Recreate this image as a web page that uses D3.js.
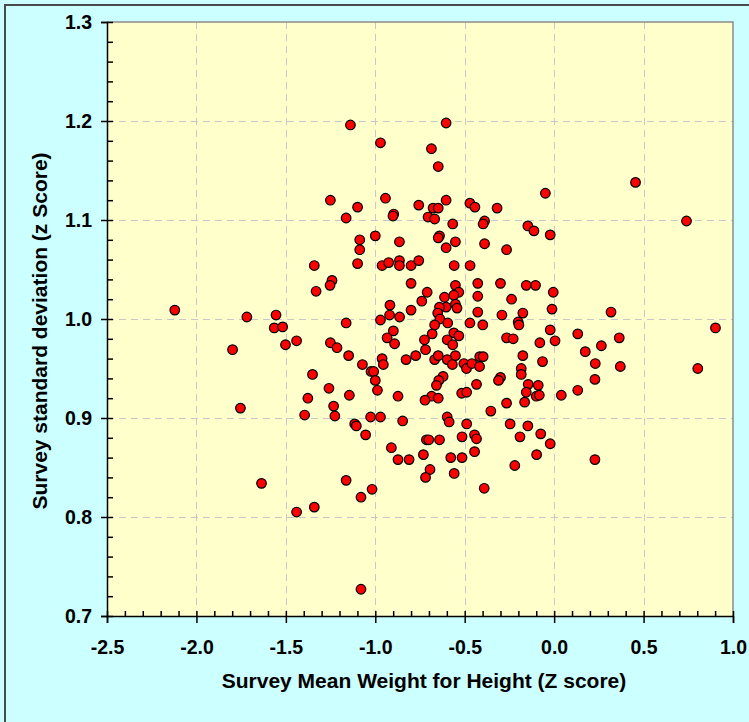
<!DOCTYPE html>
<html>
<head>
<meta charset="utf-8">
<script src="https://cdn.jsdelivr.net/npm/d3@7"></script>
<style>
  html, body { margin: 0; padding: 0; background: #ccffff; }
  svg { display: block; }
  text { font-family: "Liberation Sans", Arial, sans-serif; font-weight: bold; fill: #000; }
</style>
</head>
<body>
<script>
// ---- Data ----
const meanWHZ = [
  -1.139,-1.251,-1.163,-1.341,-1.242,-1.253,-1.331,-2.121,-1.718,-1.555,
  -1.565,-1.518,-1.440,-1.502,-1.798,-1.163,-1.251,-1.214,
  -0.604,-0.971,-0.686,-0.648,-1.099,-0.943,-0.757,-0.677,-0.648,-0.604,
  -0.897,-0.901,-0.705,-0.668,-0.567,-0.471,-0.443,-0.319,-0.389,-0.397,
  -0.147,-0.113,-1.087,-1.087,-1.000,-0.865,-0.641,-0.648,-0.552,-0.604,
  -0.389,-0.266,-1.099,-0.962,-0.925,-0.865,-0.865,-0.800,-0.757,-0.559,
  -0.470,-0.800,-0.710,-0.740,-0.918,-0.920,-0.864,-0.971,-0.800,-0.899,
  -0.934,-0.892,-0.552,-0.533,-0.561,-0.613,-0.552,-0.543,-0.604,-0.641,
  -0.651,-0.639,-0.595,-0.668,-0.682,-0.725,-0.719,-0.561,-0.533,-0.598,
  -0.567,-0.427,-0.300,-0.156,-0.104,-0.427,-0.238,-0.427,-0.292,-0.175,
  -0.201,-0.197,-0.471,-0.399,-0.266,-0.229,-0.080,
  -0.049,0.455,0.740,-0.022,-0.005,-0.012,0.318,0.902,-0.022,0.005,
  0.132,0.364,0.264,0.174,
  -1.149,-1.351,-1.259,-1.377,-1.233,-1.145,-1.754,-1.395,-1.226,-1.636,
  -1.163,-1.341,-1.440,
  -1.072,-1.024,-1.009,-0.962,-0.955,-1.000,-0.988,-0.873,-0.828,-0.774,
  -0.668,-0.648,-0.598,-0.552,-0.569,-0.505,-0.490,-0.460,-0.416,-0.397,
  -0.417,-0.175,-0.065,-0.184,-0.184,-0.621,-0.645,-0.658,-0.300,-0.311,
  -0.434,-0.145,-0.089,-0.156,-0.100,-0.083,-0.165,-0.517,-0.489,-0.685,
  -0.722,-0.648,-0.266,-0.354,-1.115,-1.106,-1.026,-0.971,-0.847,-0.598,
  -0.587,-0.489,-0.246,-0.147,-0.075,-0.191,-1.054,-0.910,-0.873,-0.811,
  -0.714,-0.701,-0.641,-0.515,-0.445,-0.434,-0.445,-0.731,-0.578,-0.515,
  -0.694,-0.719,-0.559,-0.220,-0.391,-0.098,-1.018,-1.080,-1.080,
  0.230,0.370,0.803,0.228,0.132,0.040,-0.022,0.228
];
const sdWHZ = [
  1.196,1.120,1.102,1.054,1.039,1.034,1.028,1.009,1.002,1.004,
  0.991,0.992,0.978,0.974,0.969,0.996,0.976,0.971,
  1.198,1.178,1.172,1.154,1.113,1.122,1.115,1.112,1.112,1.120,
  1.106,1.104,1.103,1.101,1.096,1.117,1.113,1.112,1.099,1.096,
  1.094,1.089,1.080,1.070,1.084,1.078,1.084,1.082,1.078,1.072,
  1.076,1.070,1.056,1.054,1.057,1.059,1.054,1.054,1.059,1.054,
  1.054,1.036,1.027,1.018,1.014,1.004,1.002,0.999,1.009,0.988,
  0.981,0.975,1.034,1.027,1.024,1.022,1.015,1.011,1.012,1.012,
  1.006,1.000,0.996,0.994,0.985,0.979,0.969,0.986,0.983,0.979,
  0.974,1.036,1.036,1.034,1.034,1.023,1.020,1.007,1.004,1.006,
  0.997,0.994,0.996,0.994,0.981,0.980,0.976,
  1.127,1.138,1.099,1.085,1.027,1.010,1.007,0.991,0.989,0.978,
  0.985,0.981,0.973,0.967,
  0.963,0.944,0.930,0.920,0.912,0.923,0.910,0.903,0.902,0.834,
  0.837,0.810,0.805,
  0.954,0.947,0.947,0.960,0.954,0.938,0.928,0.922,0.959,0.963,
  0.959,0.963,0.959,0.963,0.954,0.955,0.950,0.955,0.962,0.962,
  0.952,0.963,0.957,0.950,0.944,0.942,0.938,0.933,0.941,0.938,
  0.934,0.934,0.933,0.926,0.922,0.923,0.916,0.925,0.926,0.922,
  0.918,0.920,0.915,0.907,0.894,0.892,0.901,0.901,0.897,0.901,
  0.896,0.894,0.894,0.892,0.884,0.881,0.883,0.870,0.858,0.858,
  0.878,0.878,0.878,0.881,0.883,0.879,0.866,0.863,0.860,0.860,
  0.848,0.840,0.844,0.852,0.829,0.863,0.828,0.820,0.727,
  0.955,0.952,0.950,0.939,0.928,0.923,0.874,0.858
];
const xTickValues = [-2.5, -2.0, -1.5, -1.0, -0.5, 0.0, 0.5, 1.0];
const yTickValues = [0.7, 0.8, 0.9, 1.0, 1.1, 1.2, 1.3];
const xTitle = "Survey Mean Weight for Height (Z score)";
const yTitle = "Survey standard deviation (z Score)";

// ---- Layout ----
const W = 749, H = 722;
const plot = { left: 107, right: 733, top: 22, bottom: 616 };

const svg = d3.select("body").append("svg").attr("width", W).attr("height", H);

// outer background + frame
svg.append("rect").attr("x", 0).attr("y", 0).attr("width", W).attr("height", H).attr("fill", "#ccffff");
svg.append("rect").attr("x", 5).attr("y", 5).attr("width", W + 20).attr("height", H + 20)
  .attr("fill", "none").attr("stroke", "#4a4a4a").attr("stroke-width", 2);

const x = d3.scaleLinear().domain([-2.5, 1.0]).range([plot.left, plot.right]);
const y = d3.scaleLinear().domain([0.7, 1.3]).range([plot.bottom, plot.top]);

// plot area
svg.append("rect").attr("x", plot.left).attr("y", plot.top)
  .attr("width", plot.right - plot.left).attr("height", plot.bottom - plot.top)
  .attr("fill", "#ffffcc");

// gridlines
const grid = svg.append("g").attr("stroke", "#c8c8c8").attr("stroke-width", 1).attr("stroke-dasharray", "7,5");
grid.selectAll(".vg").data(xTickValues.slice(1, -1)).join("line")
  .attr("x1", d => Math.round(x(d)) + 0.5).attr("x2", d => Math.round(x(d)) + 0.5)
  .attr("y1", plot.top).attr("y2", plot.bottom);
grid.selectAll(".hg").data(yTickValues.slice(1, -1)).join("line")
  .attr("y1", d => Math.round(y(d)) + 0.5).attr("y2", d => Math.round(y(d)) + 0.5)
  .attr("x1", plot.left).attr("x2", plot.right);

// plot border top/right
svg.append("path")
  .attr("d", `M${plot.left},${plot.top}H${plot.right}V${plot.bottom}`)
  .attr("fill", "none").attr("stroke", "#8c8c8c").attr("stroke-width", 1.5);

// axes: outward major ticks with labels (hyphen minus as in the reference)
const loc = d3.formatLocale({ decimal: ".", thousands: ",", grouping: [3], currency: ["", ""], minus: "-" });
const fmt = loc.format(".1f");
const xAxis = svg.append("g").attr("transform", `translate(0,${plot.bottom})`)
  .call(d3.axisBottom(x).tickValues(xTickValues).tickSize(7).tickPadding(17).tickFormat(fmt));
const yAxis = svg.append("g").attr("transform", `translate(${plot.left},0)`)
  .call(d3.axisLeft(y).tickValues(yTickValues).tickSize(6).tickPadding(9).tickFormat(fmt));
// inward minor + major ticks
svg.append("g").attr("transform", `translate(0,${plot.bottom})`)
  .call(d3.axisBottom(x).tickValues(x.ticks(35)).tickSize(-5).tickFormat(""))
  .call(g => g.select(".domain").remove());
svg.append("g").attr("transform", `translate(${plot.left},0)`)
  .call(d3.axisLeft(y).tickValues(y.ticks(30)).tickSize(-6).tickFormat(""))
  .call(g => g.select(".domain").remove());

svg.selectAll(".domain, .tick line").attr("stroke", "#000").attr("stroke-width", 1.5);
[xAxis, yAxis].forEach(a => a.selectAll("text")
  .style("font-family", '"Liberation Sans", Arial, sans-serif')
  .style("font-weight", "bold").style("font-size", "19.5px").attr("fill", "#000"));

// axis titles
svg.append("text").attr("x", (plot.left + plot.right) / 2 + 4).attr("y", 688)
  .attr("text-anchor", "middle").style("font-size", "21px").text(xTitle);
svg.append("text").attr("transform", `translate(47,${(plot.top + plot.bottom) / 2 + 12}) rotate(-90)`)
  .attr("text-anchor", "middle").style("font-size", "21px").text(yTitle);

// points
svg.append("g").selectAll("circle").data(d3.range(meanWHZ.length)).join("circle")
  .attr("cx", i => x(meanWHZ[i])).attr("cy", i => y(sdWHZ[i]))
  .attr("r", 4.8).attr("fill", "#ff0000").attr("stroke", "#000").attr("stroke-width", 1.2);
</script>
</body>
</html>
